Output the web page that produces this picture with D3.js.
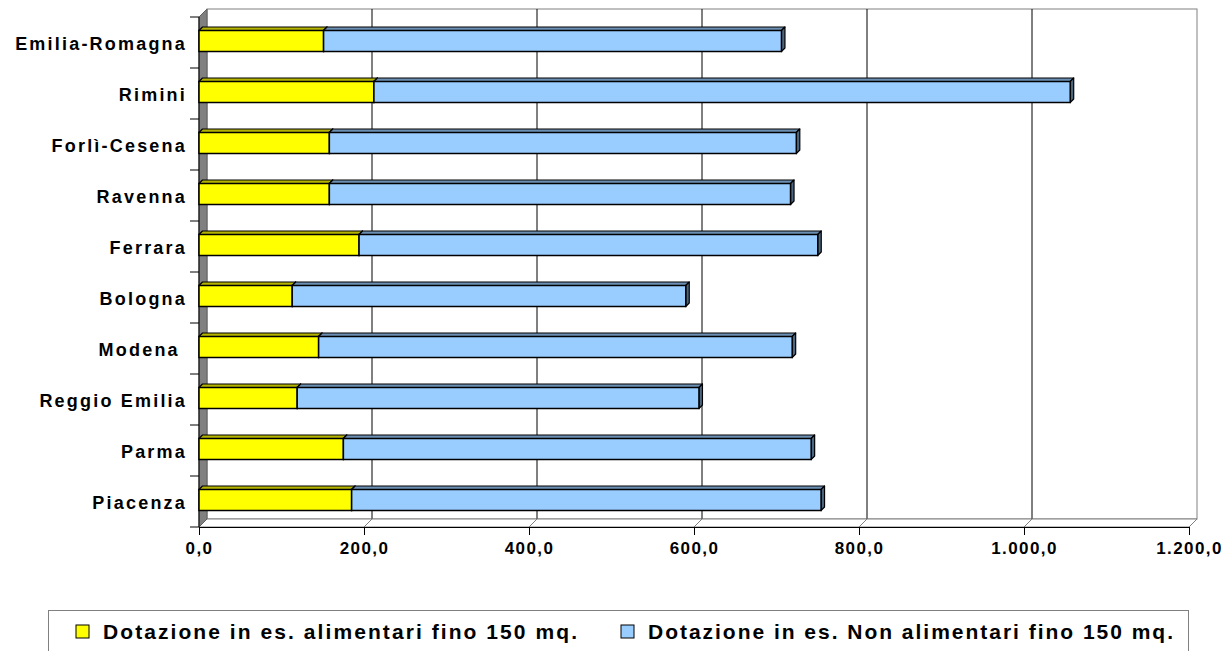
<!DOCTYPE html>
<html>
<head>
<meta charset="utf-8">
<script src="https://cdn.jsdelivr.net/npm/d3@7"></script>
<style>
  body { margin: 0; background: #fff; }
  svg { display: block; }
</style>
</head>
<body>
<svg id="chart"></svg>
<script>
let width = 1231, height = 651;

// Data (bottom to top, as in the chart)
let categories = ["Piacenza", "Parma", "Reggio Emilia", "Modena ", "Bologna", "Ferrara", "Ravenna", "Forlì-Cesena", "Rimini", "Emilia-Romagna"];
let alimentari = [185, 175, 119, 145, 113, 194, 158, 158, 212, 151];
let nonAlimentari = [569, 567, 487, 574, 477, 556, 559, 566, 844, 555];
let seriesNames = ["Dotazione in es. alimentari fino 150 mq.", "Dotazione in es. Non alimentari fino 150 mq."];
let xTicks = [0, 200, 400, 600, 800, 1000, 1200];

let colors = ["#ffff00", "#99ccff"];
let topColors = ["#b3b300", "#6b8fb3"];
let sideColors = ["#808000", "#4d6680"];

let font = "'Liberation Sans', Arial, sans-serif";
let depth = 8, barDepth = 3.5;

let svg = d3.select("#chart")
  .attr("width", width)
  .attr("height", height)
  .attr("viewBox", [0, 0, width, height]);

// Scales
let xScale = d3.scaleLinear().domain([0, 1200]).range([199, 1189]);
let yScale = d3.scaleBand().domain(categories.slice().reverse()).range([17, 527]);
let y0 = yScale.range()[1], y1 = yScale.range()[0];
let xl = xScale(0), xr = xScale(1200);

// Back wall
svg.append("rect")
  .attr("x", xl + depth).attr("y", y1 - depth)
  .attr("width", xr - xl).attr("height", y0 - y1)
  .attr("fill", "#fff").attr("stroke", "#808080");

// Gridlines on the back wall
svg.append("g").selectAll("line")
  .data(xTicks.slice(1, -1))
  .join("line")
  .attr("x1", d => xScale(d) + depth).attr("x2", d => xScale(d) + depth)
  .attr("y1", y1 - depth).attr("y2", y0 - depth)
  .attr("stroke", "#000").attr("stroke-width", 1);

// Floor
svg.append("polygon")
  .attr("points", [[xl, y0], [xr, y0], [xr + depth, y0 - depth], [xl + depth, y0 - depth]].join(" "))
  .attr("fill", "#fff").attr("stroke", "#808080");

svg.append("g").selectAll("line")
  .data(xTicks.slice(1))
  .join("line")
  .attr("x1", d => xScale(d)).attr("x2", d => xScale(d) + depth)
  .attr("y1", y0).attr("y2", y0 - depth)
  .attr("stroke", "#808080");

// Left wall
svg.append("polygon")
  .attr("points", [[xl, y1], [xl + depth, y1 - depth], [xl + depth, y0 - depth], [xl, y0]].join(" "))
  .attr("fill", "#808080").attr("stroke", "#606060");

// X axis
let itLocale = d3.formatLocale({ decimal: ",", thousands: ".", grouping: [3], currency: ["", "€"] });
let xAxis = d3.axisBottom(xScale).tickValues(xTicks).tickFormat(itLocale.format(",.1f")).tickSize(8).tickPadding(7);

svg.append("g")
  .attr("transform", `translate(0,${y0})`)
  .call(xAxis)
  .call(g => g.select(".domain").attr("d", `M${xl},0.5H${xr}`).attr("stroke", "#000"))
  .selectAll("text")
  .style("font-family", font)
  .style("font-size", "17px")
  .style("font-weight", "bold")
  .style("letter-spacing", "1.4px")
  .style("fill", "#000");

// Y axis
let yAxis = d3.axisLeft(yScale).tickSize(0).tickPadding(12);
svg.append("g")
  .attr("transform", `translate(${xl},1)`)
  .call(yAxis)
  .call(g => g.select(".domain").remove())
  .selectAll("text")
  .attr("dy", "0.35em")
  .style("white-space", "pre")
  .style("font-family", font)
  .style("font-size", "18px")
  .style("font-weight", "bold")
  .style("letter-spacing", "2.2px")
  .style("fill", "#000");

svg.append("line")
  .attr("x1", xl).attr("x2", xl).attr("y1", y1).attr("y2", y0)
  .attr("stroke", "#000");

svg.append("g").selectAll("line")
  .data(categories.map(c => yScale(c)).concat([y0]))
  .join("line")
  .attr("x1", xl - 9).attr("x2", xl)
  .attr("y1", d => d).attr("y2", d => d)
  .attr("stroke", "#000");

// Bars
let table = categories.map((c, i) => ({ cat: c, a: alimentari[i], n: nonAlimentari[i] }));
let stacked = d3.stack().keys(["a", "n"])(table);

let barH = 21;
stacked.forEach((layer, k) => {
  let g = svg.append("g");
  layer.forEach(d => {
    let bx0 = xScale(d[0]), bx1 = xScale(d[1]);
    let by = yScale(d.data.cat) + yScale.bandwidth() / 2 - 12;
    g.append("polygon")
      .attr("points", [[bx0, by], [bx0 + barDepth, by - barDepth], [bx1 + barDepth, by - barDepth], [bx1, by]].join(" "))
      .attr("fill", topColors[k]).attr("stroke", "#000").attr("stroke-width", 1.2).attr("stroke-linejoin", "round");
    g.append("polygon")
      .attr("points", [[bx1, by], [bx1 + barDepth, by - barDepth], [bx1 + barDepth, by + barH - barDepth], [bx1, by + barH]].join(" "))
      .attr("fill", sideColors[k]).attr("stroke", "#000").attr("stroke-width", 1.2).attr("stroke-linejoin", "round");
    g.append("rect")
      .attr("x", bx0).attr("y", by)
      .attr("width", bx1 - bx0).attr("height", barH)
      .attr("fill", colors[k]).attr("stroke", "#000").attr("stroke-width", 1.5);
  });
});

// Legend
svg.append("rect")
  .attr("x", 48.5).attr("y", 610.5)
  .attr("width", 1140).attr("height", 60)
  .attr("fill", "#fff").attr("stroke", "#808080");

let legendX = [76, 621];
let legendW = [474, 525];
let legend = svg.append("g")
  .selectAll("g")
  .data(seriesNames)
  .join("g")
  .attr("transform", (d, i) => `translate(${legendX[i]},625)`);

legend.append("rect")
  .attr("width", 13).attr("height", 13)
  .attr("fill", (d, i) => colors[i])
  .attr("stroke", "#000").attr("stroke-width", 1);

legend.append("text")
  .attr("x", 27).attr("y", 7).attr("dy", "0.35em")
  .attr("textLength", (d, i) => legendW[i])
  .attr("lengthAdjust", "spacing")
  .style("font-family", font)
  .style("font-size", "21px")
  .style("font-weight", "bold")
  .style("fill", "#000")
  .text(d => d);
</script>
</body>
</html>
